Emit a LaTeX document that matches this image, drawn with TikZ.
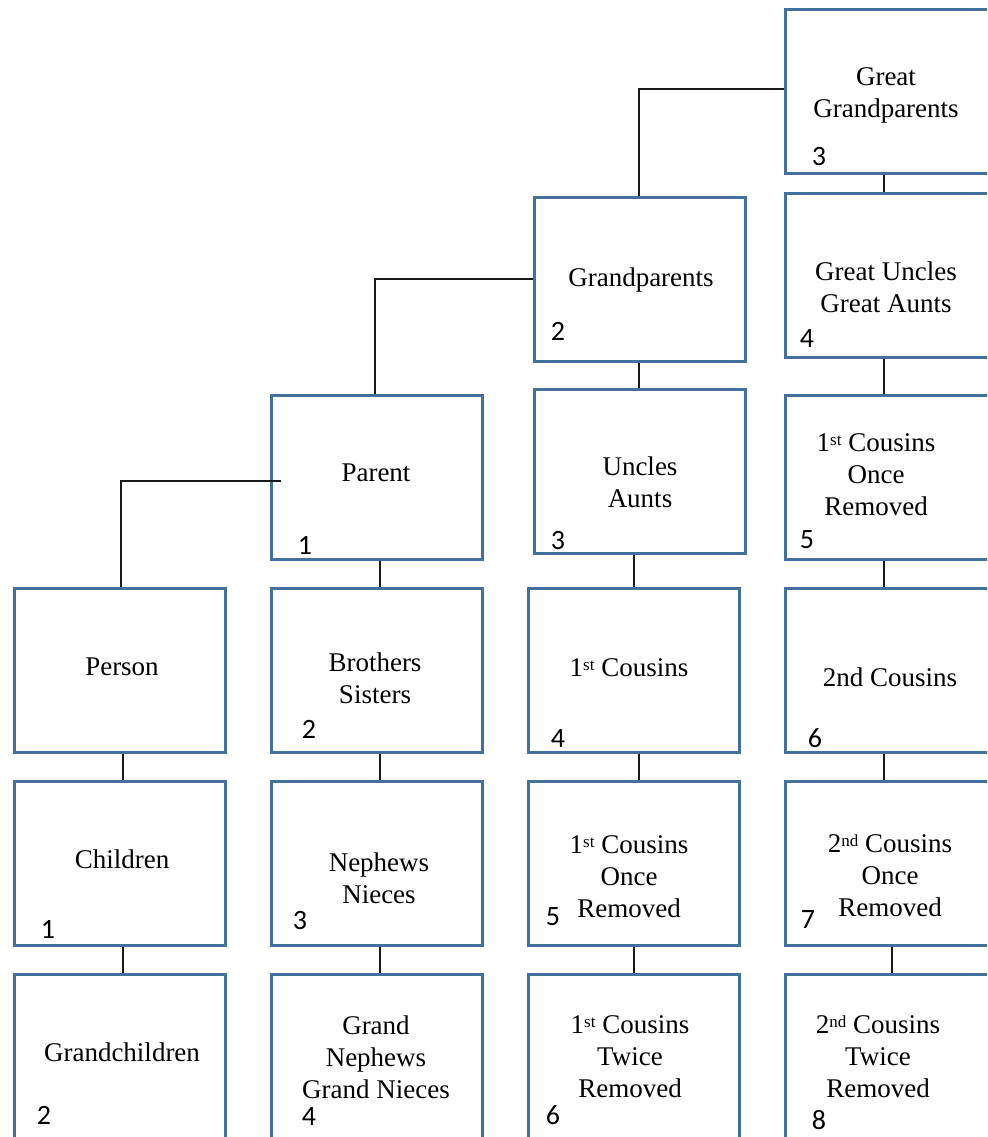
\documentclass[tikz,border=0pt]{standalone}
\usepackage{fontspec}
\setmainfont{Liberation Serif}
\newfontfamily\numfont{Carlito}
\definecolor{boxblue}{HTML}{41719C}
\newcommand{\supr}[1]{\raisebox{0.5ex}{\fontsize{8.5}{9}\selectfont #1}}
\begin{document}
\begin{tikzpicture}[x=0.5pt,y=-0.5pt,
  box/.style={draw=boxblue, line width=1.5pt, minimum width=105.5pt, minimum height=82pt, inner sep=0pt},
  lbl/.style={align=center, font=\fontsize{13.5}{16}\selectfont, inner sep=0pt},
  num/.style={font=\numfont\fontsize{14}{16}\selectfont, inner sep=0pt},
  conn/.style={draw=black!90, line width=0.7pt}]
\useasboundingbox (0,0) rectangle (987,1137);
\fill[white] (0,0) rectangle (987,1137);
\clip (0,0) rectangle (987,1137);
% boxes
\node[box] (gg)  at (891,91.5) {};
\node[box] (gu)  at (891,275.5) {};
\node[box] (c1r4) at (891,477.5) {};
\node[box] (c2)  at (891,670) {};
\node[box] (c2o) at (891,863) {};
\node[box] (c2t) at (891,1056) {};
\node[box] (gp)  at (640,279) {};
\node[box] (ua)  at (640,471) {};
\node[box] (c1)  at (634,670) {};
\node[box] (c1o) at (634,863) {};
\node[box] (c1t) at (634,1056) {};
\node[box] (par) at (377,477) {};
\node[box] (bs)  at (377,670) {};
\node[box] (nn)  at (377,863) {};
\node[box] (gn)  at (377,1056) {};
\node[box] (per) at (120,670) {};
\node[box] (ch)  at (120,863) {};
\node[box] (gc)  at (120,1056) {};
% labels
\node[lbl] (tgg) at (886,95) {Great\\Grandparents};
\node[lbl] (tgu) at (886,287) {Great Uncles\\Great Aunts};
\node[lbl] (tc1r4) at (876,475) {1\supr{st} Cousins\\Once\\Removed};
\node[lbl] (tc2) at (890,677) {2nd Cousins};
\node[lbl] (tc2o) at (890,876) {2\supr{nd} Cousins\\Once\\Removed};
\node[lbl] (tc2t) at (878,1057) {2\supr{nd} Cousins\\Twice\\Removed};
\node[lbl] (tgp) at (641,280) {Grandparents};
\node[lbl] (tua) at (640,482) {Uncles\\Aunts};
\node[lbl] (tc1) at (629,668) {1\supr{st} Cousins};
\node[lbl] (tc1o) at (629,877) {1\supr{st} Cousins\\Once\\Removed};
\node[lbl] (tc1t) at (630,1057) {1\supr{st} Cousins\\Twice\\Removed};
\node[lbl] (tpar) at (376,473) {Parent};
\node[lbl] (tbs) at (375,678) {Brothers\\Sisters};
\node[lbl] (tnn) at (379,878) {Nephews\\Nieces};
\node[lbl] (tgn) at (376,1057) {Grand\\Nephews\\Grand Nieces};
\node[lbl] (tper) at (122,667) {Person};
\node[lbl] (tch) at (122,859) {Children};
\node[lbl] (tgc) at (122,1052) {Grandchildren};
% numbers
\node[num] (ngg) at (819,157) {3};
\node[num] (ngu) at (807,339) {4};
\node[num] (nc1r4) at (807,540) {5};
\node[num] (nc2) at (815,738) {6};
\node[num] (nc2o) at (808,920) {7};
\node[num] (nc2t) at (819,1120) {8};
\node[num] (ngp) at (558,331) {2};
\node[num] (nua) at (558,540) {3};
\node[num] (nc1) at (558,738) {4};
\node[num] (nc1o) at (553,917) {5};
\node[num] (nc1t) at (553,1115) {6};
\node[num] (npar) at (305,545) {1};
\node[num] (nbs) at (309,729) {2};
\node[num] (nnn) at (300,920) {3};
\node[num] (ngn) at (309,1116) {4};
\node[num] (nch) at (48,929) {1};
\node[num] (ngc) at (44,1115) {2};
% connectors
\draw[conn] ([yshift=1.25]gg.west) -| ([xshift=-0.5]gp.north);
\draw[conn] (gp.west) -| ([xshift=-1]par.north);
\draw[conn] ([xshift=5.5pt,yshift=-2]par.west) -| ([xshift=0.5]per.north);
\draw[conn] ([xshift=-3.5]gg.south) -- ([xshift=-3.5]gg.south |- gu.north);
\draw[conn] ([xshift=-3.5]gu.south) -- ([xshift=-3.5]gu.south |- c1r4.north);
\draw[conn] ([xshift=-3.5]c1r4.south) -- ([xshift=-3.5]c1r4.south |- c2.north);
\draw[conn] ([xshift=-3.5]c2.south) -- ([xshift=-3.5]c2.south |- c2o.north);
\draw[conn] ([xshift=0.5]c2o.south) -- ([xshift=0.5]c2o.south |- c2t.north);
\draw[conn] ([xshift=-0.5]gp.south) -- ([xshift=-0.5]gp.south |- ua.north);
\draw[conn] ([xshift=-3]ua.south) -- ([xshift=-3]ua.south |- c1.north);
\draw[conn] ([xshift=2.5]c1.south) -- ([xshift=2.5]c1.south |- c1o.north);
\draw[conn] (c1o.south) -- (c1o.south |- c1t.north);
\draw[conn] ([xshift=1.5]par.south) -- ([xshift=1.5]par.south |- bs.north);
\draw[conn] ([xshift=1.5]bs.south) -- ([xshift=1.5]bs.south |- nn.north);
\draw[conn] ([xshift=1.5]nn.south) -- ([xshift=1.5]nn.south |- gn.north);
\draw[conn] ([xshift=1.5]per.south) -- ([xshift=1.5]per.south |- ch.north);
\draw[conn] ([xshift=1.5]ch.south) -- ([xshift=1.5]ch.south |- gc.north);
\end{tikzpicture}
\end{document}
